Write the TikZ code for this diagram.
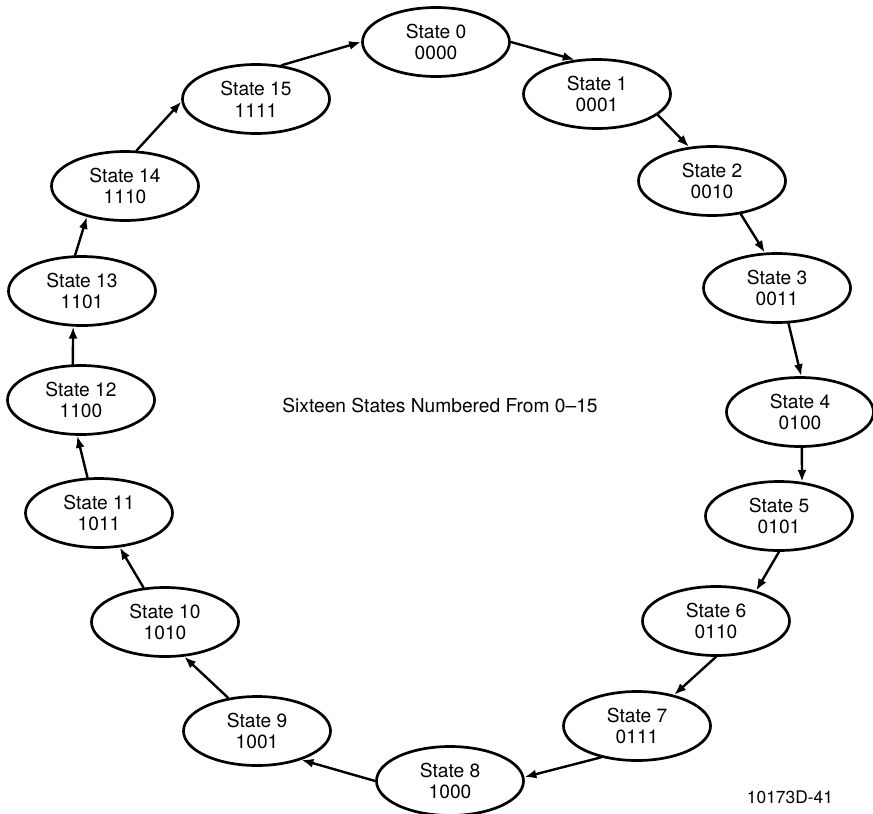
\documentclass[tikz,border=0pt]{standalone}
\usepackage{fontspec}
\setmainfont{TeX Gyre Heros}
\usetikzlibrary{shapes.geometric,arrows.meta}
\begin{document}
\begin{tikzpicture}[x=0.5pt,y=-0.5pt,line cap=round,line join=round,>={Latex[length=6pt,width=4.5pt]}]
  \tikzset{
    statenode/.style={ellipse,draw,line width=1.35pt,minimum width=73.5pt,minimum height=34.5pt,
      inner sep=0pt,align=center,font=\fontsize{9.6}{10.9}\selectfont},
    flowline/.style={->,line width=1.2pt},
  }
  \useasboundingbox (0,0) rectangle (873,814);

  % ==================== right half ====================
  \node[statenode] (s0) at (436,42) {State 0\\0000};
  \node[statenode] (s1) at (597,94) {State 1\\0001};
  \node[statenode] (s2) at (712,181) {State 2\\0010};
  \node[statenode] (s3) at (777,288) {State 3\\0011};
  \node[statenode] (s4) at (800,412) {State 4\\0100};
  \node[statenode] (s5) at (779,516) {State 5\\0101};
  \node[statenode] (s6) at (716,621) {State 6\\0110};
  \node[statenode] (s7) at (637,726) {State 7\\0111};

  % ==================== left half ====================
  \node[statenode] (s8) at (450,781) {State 8\\1000};
  \node[statenode] (s9) at (257,731) {State 9\\1001};
  \node[statenode] (s10) at (165,622) {State 10\\1010};
  \node[statenode] (s11) at (99,513) {State 11\\1011};
  \node[statenode] (s12) at (81,400) {State 12\\1100};
  \node[statenode] (s13) at (82,291) {State 13\\1101};
  \node[statenode] (s14) at (125,186) {State 14\\1110};
  \node[statenode] (s15) at (256,99) {State 15\\1111};

  % captions
  \node[font=\fontsize{9.6}{11}\selectfont] (title) at (440,405) {Sixteen States Numbered From 0--15};
  \node[font=\fontsize{8.7}{10}\selectfont] (figno) at (790,797) {10173D-41};

  % ==================== transitions ====================
  \draw[flowline] (s0.east) -- (s1.123);
  \draw[flowline] (s1.-19) -- (s2.124);
  \draw[flowline] (s2.-49) -- (s3.109);
  \draw[flowline] (s3.-72) -- (s4.88);
  \draw[flowline] (s4.-87) -- (s5.56);
  \draw[flowline] (s5.south) -- (s6.37);
  \draw[flowline] (s6.south) -- (s7.40);
  \draw[flowline] (s7.221) -- (s8.3);
  \draw[flowline] (s8.west) -- (s9.-33);
  \draw[flowline] (s9.131) -- (s10.-61);
  \draw[flowline] (s10.122) -- (s11.-59);
  \draw[flowline] (s11.108) -- (s12.-96);
  \draw[flowline] (s12.103) -- (s13.-104);
  \draw[flowline] (s13.101) -- (s14.219);
  \draw[flowline] (s14.72) -- (s15.182);
  \draw[flowline] (s15.53) -- (s0.west);
\end{tikzpicture}
\end{document}
